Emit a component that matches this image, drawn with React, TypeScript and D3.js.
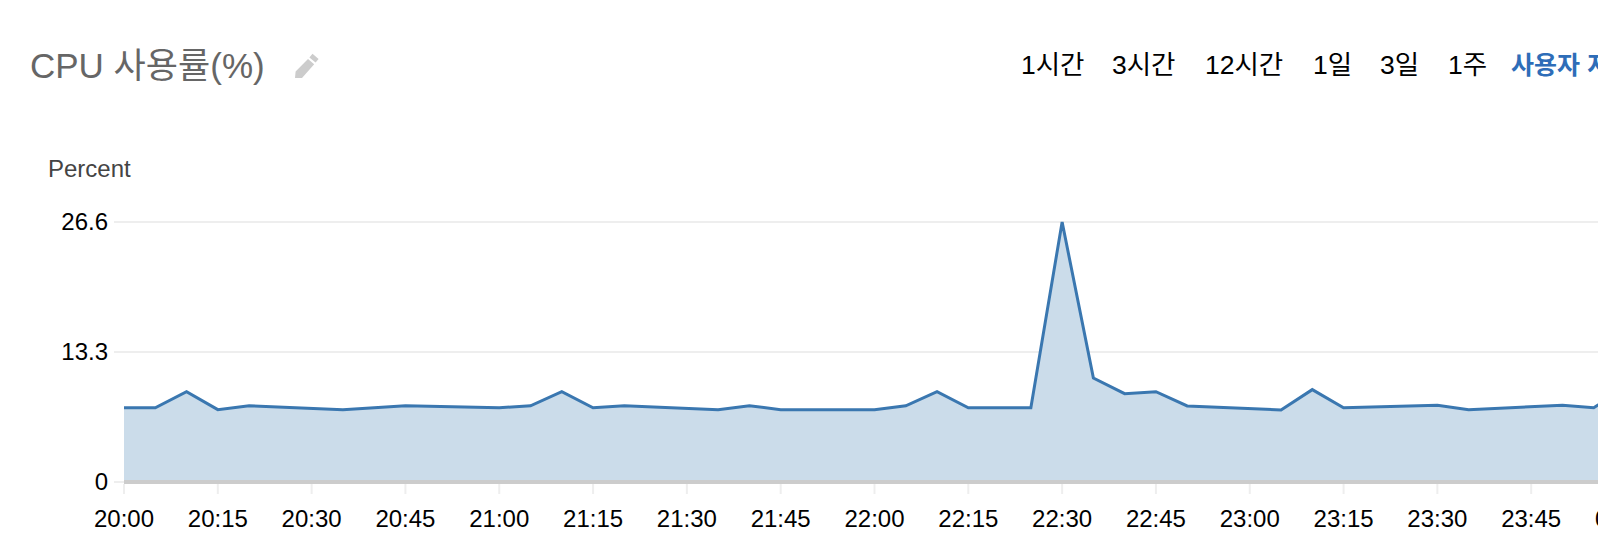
import React from "react";
import * as d3 from "d3";

const minutes = [0,5,10,15,20,35,45,60,65,70,75,80,95,100,105,120,125,130,135,145,150,155,160,165,170,185,190,195,210,215,230,235,240];
const values = [7.6,7.6,9.24,7.4,7.8,7.4,7.8,7.6,7.8,9.24,7.6,7.8,7.4,7.8,7.4,7.4,7.8,9.24,7.6,7.6,26.6,10.64,9.04,9.24,7.78,7.37,9.45,7.6,7.85,7.4,7.85,7.6,9.6];
const tickMinutes = [0,15,30,45,60,75,90,105,120,135,150,165,180,195,210,225,240];
const tickLabels = ["20:00","20:15","20:30","20:45","21:00","21:15","21:30","21:45","22:00","22:15","22:30","22:45","23:00","23:15","23:30","23:45","00:00"];
const yTicks = [26.6,13.3,0];
const yTickLabels = ["26.6","13.3","0"];
const navLabels = ["1시간","3시간","12시간","1일","3일","1주"];
const navX = [1021,1112,1205,1313,1380,1448];

const FONT = "'Liberation Sans','Noto Sans CJK KR',sans-serif";

export default function App() {
  const x = d3.scaleLinear().domain([0,240]).range([124,1625]);
  const y = d3.scaleLinear().domain([0,26.6]).range([482,222]);
  const pts = minutes.map((m,i)=>({m,v:values[i]}));
  const line = d3.line<any>().x(d=>x(d.m)).y(d=>y(d.v));
  const area = d3.area<any>().x(d=>x(d.m)).y0(y(0)).y1(d=>y(d.v));
  return (
    <svg width={1598} height={546} style={{position:"absolute",left:0,top:0,background:"#fff"}} fontFamily={FONT}>
      <text x={30} y={78} fontSize={35} fill="#666">CPU 사용률(%)</text>
      <g transform="translate(295,53)" fill="#ccc">
        <path d="M17.5 0.8 L23.6 6 L20.6 9.6 L14.4 4.4 Z M13 6 L19.2 11.2 L7 25 L0 25 L0.6 18.6 Z"/>
      </g>
      {navLabels.map((t,i)=>(
        <text key={i} x={navX[i]} y={74} fontSize={26.5} fill="#000">{t}</text>
      ))}
      <text x={1511} y={74} fontSize={25} fontWeight={700} fill="#2e6db8">사용자 지정</text>
      <text x={48} y={177} fontSize={24} fill="#444">Percent</text>
      {yTicks.map((t,i)=>(
        <g key={t}>
          <line x1={114} x2={1598} y1={y(t)} y2={y(t)} stroke="#eee" strokeWidth={2}/>
          <text x={108} y={y(t)+8} fontSize={24} textAnchor="end" fill="#000">{yTickLabels[i]}</text>
        </g>
      ))}
      {tickMinutes.map((m,i)=>(
        <g key={m}>
          <line x1={x(m)} x2={x(m)} y1={484} y2={494} stroke="#eee" strokeWidth={2}/>
          <text x={x(m)} y={527} fontSize={24} textAnchor="middle" fill="#000">{tickLabels[i]}</text>
        </g>
      ))}
      <path d={area(pts)!} fill="#cbdcea"/>
      <path d={line(pts)!} fill="none" stroke="#3a77b0" strokeWidth={3} strokeLinejoin="miter"/>
      <line x1={124} x2={1598} y1={482} y2={482} stroke="#ccc" strokeWidth={4}/>
    </svg>
  );
}
